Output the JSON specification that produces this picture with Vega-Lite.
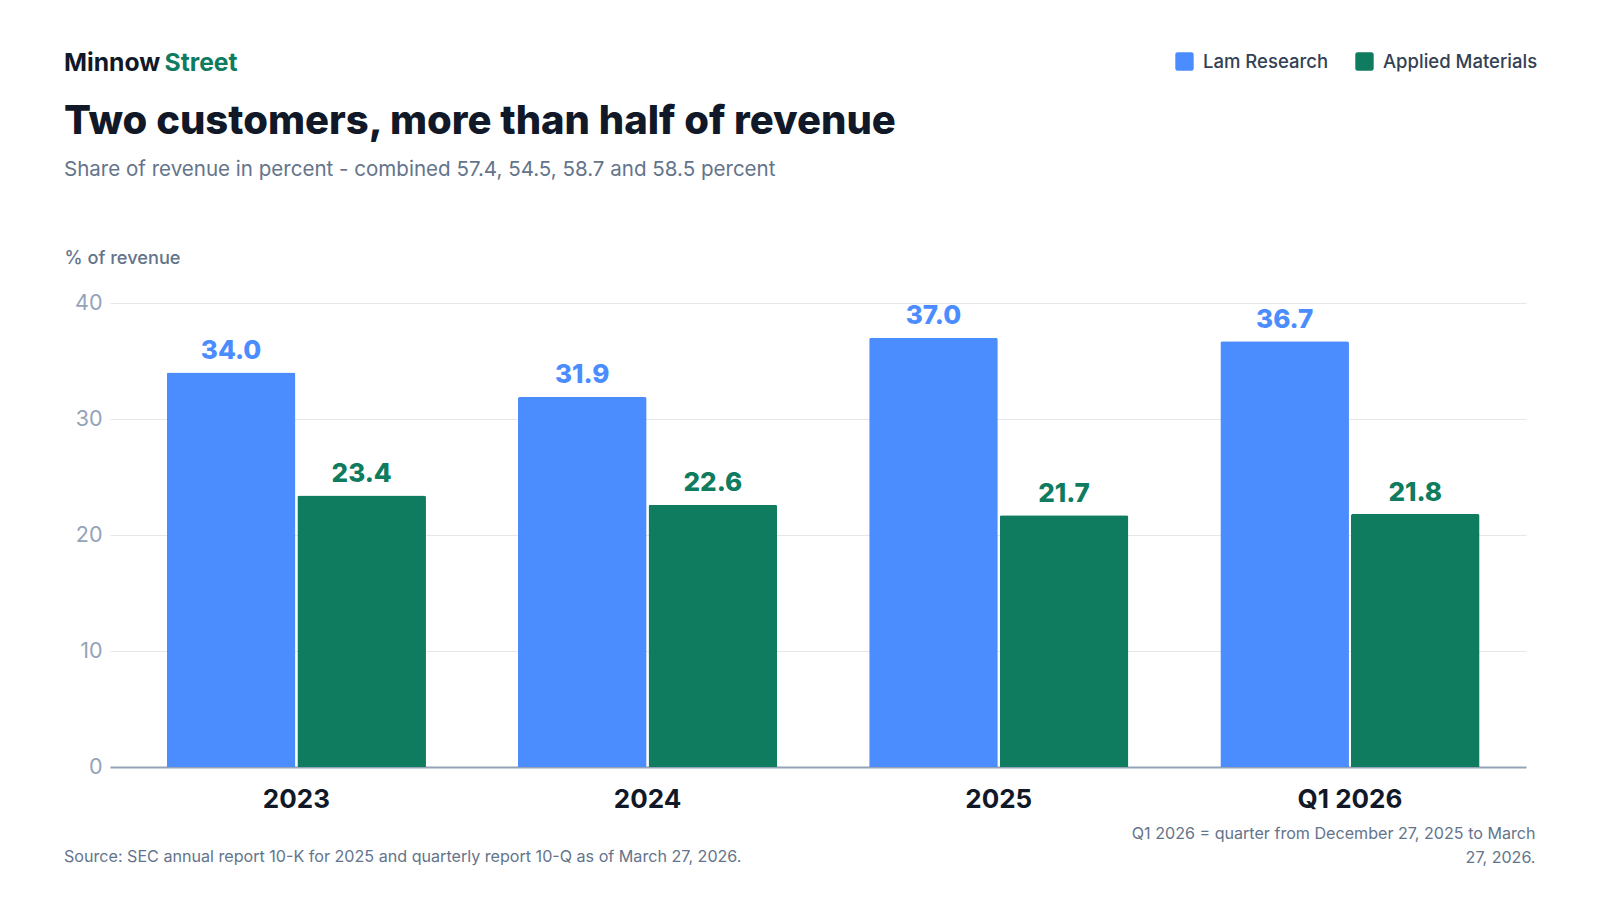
{
  "$schema": "https://vega.github.io/schema/vega-lite/v6.json",
  "width": 1416,
  "height": 464,
  "autosize": {"type": "none"},
  "padding": {"left": 110, "top": 303, "right": 74, "bottom": 133},
  "background": "white",
  "config": {
    "font": "Inter",
    "view": {"stroke": null},
    "axis": {"labelFont": "Inter", "titleFont": "Inter"},
    "legend": {"labelFont": "Inter"}
  },
  "datasets": {
    "shares": [
      {"period": "2023", "customer": "Lam Research", "share": 34.0},
      {"period": "2023", "customer": "Applied Materials", "share": 23.4},
      {"period": "2024", "customer": "Lam Research", "share": 31.9},
      {"period": "2024", "customer": "Applied Materials", "share": 22.6},
      {"period": "2025", "customer": "Lam Research", "share": 37.0},
      {"period": "2025", "customer": "Applied Materials", "share": 21.7},
      {"period": "Q1 2026", "customer": "Lam Research", "share": 36.7},
      {"period": "Q1 2026", "customer": "Applied Materials", "share": 21.8}
    ]
  },
  "layer": [
    {
      "data": {"name": "shares"},
      "encoding": {
        "x": {
          "field": "period",
          "type": "nominal",
          "sort": null,
          "scale": {"paddingInner": 0.262, "paddingOuter": 0.147, "align": 0.55},
          "axis": {
            "title": null,
            "labelAngle": 0,
            "labelFontSize": 26,
            "labelFontWeight": 700,
            "labelColor": "#111827",
            "labelPadding": 19,
            "ticks": false,
            "domainColor": "#94a3b8",
            "domainWidth": 2
          }
        },
        "xOffset": {
          "field": "customer",
          "type": "nominal",
          "sort": ["Lam Research", "Applied Materials"],
          "scale": {"paddingInner": 0.015}
        },
        "y": {
          "field": "share",
          "type": "quantitative",
          "scale": {"domain": [0, 40]},
          "axis": {
            "title": "% of revenue",
            "titleAngle": 0,
            "titleAlign": "left",
            "titleBaseline": "alphabetic",
            "titleX": -46,
            "titleY": -40,
            "titleFontSize": 18.2,
            "titleFontWeight": 500,
            "titleColor": "#64748b",
            "values": [0, 10, 20, 30, 40],
            "labelFontSize": 21.5,
            "labelColor": "#94a3b8",
            "labelPadding": 8,
            "ticks": false,
            "domain": false,
            "gridColor": "#e5e7eb",
            "gridWidth": 1
          }
        },
        "color": {
          "field": "customer",
          "type": "nominal",
          "sort": ["Lam Research", "Applied Materials"],
          "scale": {"domain": ["Lam Research", "Applied Materials"], "range": ["#4b8cff", "#0f7b5f"]},
          "legend": {
            "title": null,
            "orient": "none",
            "direction": "horizontal",
            "legendX": 1065,
            "legendY": -251,
            "symbolType": "M-0.75,-1H0.75Q1,-1 1,-0.75V0.75Q1,1 0.75,1H-0.75Q-1,1 -1,0.75V-0.75Q-1,-1 -0.75,-1Z",
            "symbolSize": 338,
            "symbolStrokeWidth": 0,
            "symbolOpacity": 1,
            "labelFontSize": 18.5,
            "labelFontWeight": 500,
            "labelColor": "#334155",
            "labelOffset": 9,
            "columnPadding": 26
          }
        }
      },
      "layer": [
        {"mark": {"type": "bar", "cornerRadiusTopLeft": 2, "cornerRadiusTopRight": 2}},
        {
          "mark": {"type": "text", "baseline": "alphabetic", "dy": -13.5, "fontSize": 26, "fontWeight": 800},
          "encoding": {"text": {"field": "share", "type": "quantitative", "format": ".1f"}}
        }
      ]
    },
    {
      "data": {"values": [{"word": "Minnow"}]},
      "mark": {"type": "text", "align": "left", "baseline": "alphabetic", "fontSize": 24.7, "fontWeight": 700, "color": "#111827"},
      "encoding": {"text": {"field": "word"}, "x": {"value": -46}, "y": {"value": -232.5}}
    },
    {
      "data": {"values": [{"word": "Street"}]},
      "mark": {"type": "text", "align": "left", "baseline": "alphabetic", "fontSize": 24.7, "fontWeight": 700, "color": "#0f7b5f"},
      "encoding": {"text": {"field": "word"}, "x": {"value": 54.5}, "y": {"value": -232.5}}
    },
    {
      "data": {"values": [{"headline": "Two customers, more than half of revenue"}]},
      "mark": {"type": "text", "align": "left", "baseline": "alphabetic", "fontSize": 40, "fontWeight": 800, "color": "#111827"},
      "encoding": {"text": {"field": "headline"}, "x": {"value": -46}, "y": {"value": -169}}
    },
    {
      "data": {"values": [{"subhead": "Share of revenue in percent - combined 57.4, 54.5, 58.7 and 58.5 percent"}]},
      "mark": {"type": "text", "align": "left", "baseline": "alphabetic", "fontSize": 20.55, "color": "#64748b"},
      "encoding": {"text": {"field": "subhead"}, "x": {"value": -46}, "y": {"value": -127.5}}
    },
    {
      "data": {"values": [{"note": "Source: SEC annual report 10-K for 2025 and quarterly report 10-Q as of March 27, 2026."}]},
      "mark": {"type": "text", "align": "left", "baseline": "alphabetic", "fontSize": 16.13, "color": "#64748b"},
      "encoding": {"text": {"field": "note"}, "x": {"value": -46}, "y": {"value": 559}}
    },
    {
      "data": {"values": [{"note": ["Q1 2026 = quarter from December 27, 2025 to March", "27, 2026."]}]},
      "mark": {"type": "text", "align": "right", "baseline": "alphabetic", "fontSize": 16.1, "lineHeight": 23.5, "color": "#64748b"},
      "encoding": {"text": {"field": "note"}, "x": {"value": 1425.5}, "y": {"value": 536}}
    }
  ]
}
